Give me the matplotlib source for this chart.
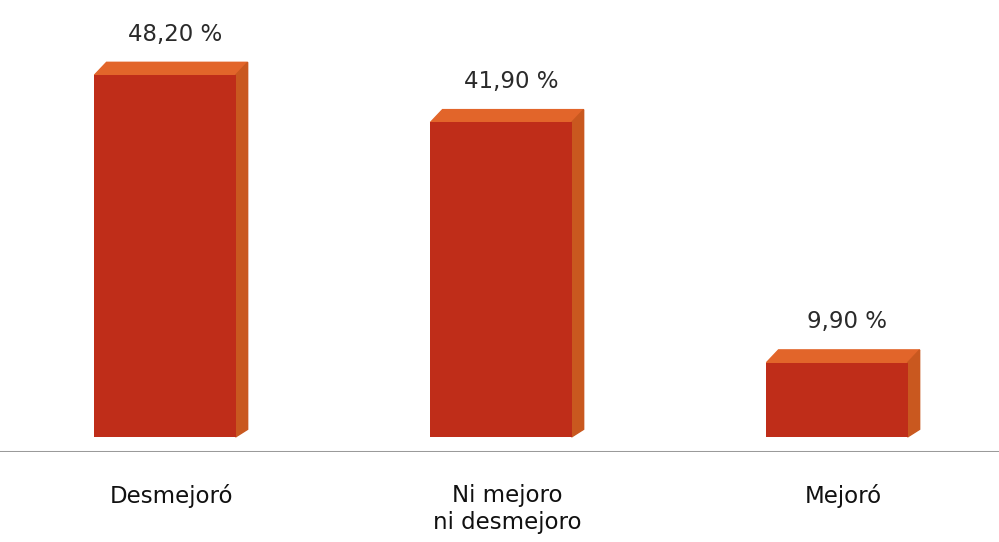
import matplotlib.pyplot as plt
from matplotlib.patches import Polygon

categories = ['Desmejoró', 'Ni mejoro\nni desmejoro', 'Mejoró']
values = [48.20, 41.90, 9.90]
value_labels = ['48,20 %', '41,90 %', '9,90 %']

front = '#BF2D19'
top = '#E2652A'
side = '#C9581F'

fig = plt.figure(figsize=(9.99, 5.42), dpi=100)
ax = fig.add_axes([0, 1 - 452 / 542, 1, 452 / 542])

width = 0.42
dx = 0.036   # depth of the box, x units
dy = 1.7     # depth of the box, y units

xs = range(len(values))
ax.bar(xs, values, width=width, color=front, zorder=3)

for x, v, lab in zip(xs, values, value_labels):
    l, r = x - width / 2, x + width / 2
    # top face
    ax.add_patch(Polygon([(l, v), (r, v), (r + dx, v + dy), (l + dx, v + dy)],
                         closed=True, color=top, zorder=2))
    # right side face
    ax.add_patch(Polygon([(r, 0), (r + dx, dy * 0.6), (r + dx, v + dy), (r, v)],
                         closed=True, color=side, zorder=2))
    ax.text(x + 0.03, v + dy + 2.2, lab, ha='center', va='bottom',
            fontsize=16.5, color='#2a2a2a')

ax.axhline(-2, color='#9a9a9a', lw=2.2)

for x, c in zip(xs, categories):
    ax.text(x + 0.02, -6.3, c, ha='center', va='top', fontsize=16.5,
            color='#111111', linespacing=1.2)

ax.set_xlim(-165 / 336, 834 / 336)
ax.set_ylim(-2, 58.2)
ax.axis('off')

fig.savefig('out.png', dpi=100)
